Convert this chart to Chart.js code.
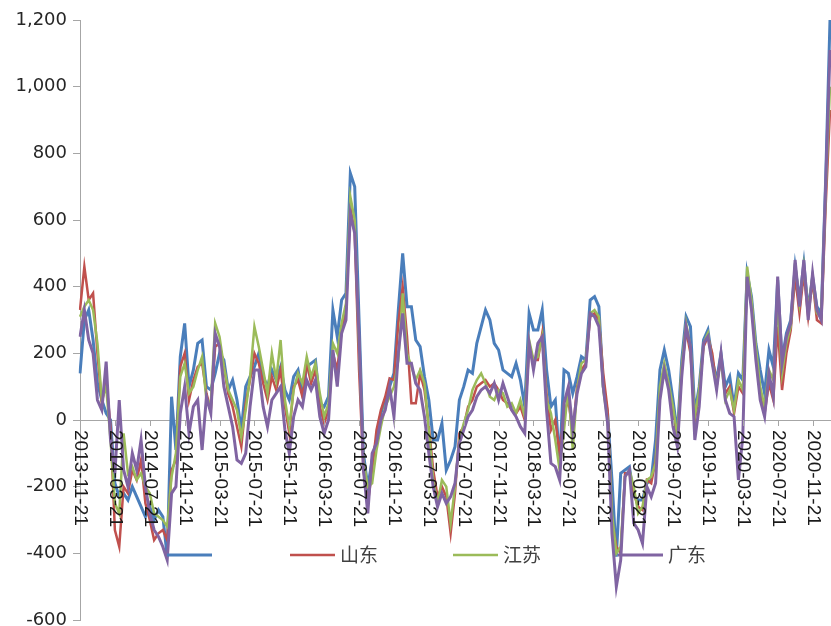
<!DOCTYPE html>
<html>
<head>
<meta charset="utf-8">
<script src="https://cdn.jsdelivr.net/npm/chart.js@4.4.1/dist/chart.umd.min.js"></script>
<style>
  html, body { margin: 0; padding: 0; background: #fff; }
  #chart { display: block; }
</style>
</head>
<body>
<canvas id="chart" width="831" height="626"></canvas>
<script>
// 日期（半月一点）
const dates = [
  '2013-11-21','2013-12-06','2013-12-21',
  '2014-01-06','2014-01-21','2014-02-06','2014-02-21','2014-03-06','2014-03-21','2014-04-06','2014-04-21','2014-05-06','2014-05-21','2014-06-06','2014-06-21',
  '2014-07-06','2014-07-21','2014-08-06','2014-08-21','2014-09-06','2014-09-21','2014-10-06','2014-10-21','2014-11-06','2014-11-21','2014-12-06','2014-12-21',
  '2015-01-06','2015-01-21','2015-02-06','2015-02-21','2015-03-06','2015-03-21','2015-04-06','2015-04-21','2015-05-06','2015-05-21','2015-06-06','2015-06-21',
  '2015-07-06','2015-07-21','2015-08-06','2015-08-21','2015-09-06','2015-09-21','2015-10-06','2015-10-21','2015-11-06','2015-11-21','2015-12-06','2015-12-21',
  '2016-01-06','2016-01-21','2016-02-06','2016-02-21','2016-03-06','2016-03-21','2016-04-06','2016-04-21','2016-05-06','2016-05-21','2016-06-06','2016-06-21',
  '2016-07-06','2016-07-21','2016-08-06','2016-08-21','2016-09-06','2016-09-21','2016-10-06','2016-10-21','2016-11-06','2016-11-21','2016-12-06','2016-12-21',
  '2017-01-06','2017-01-21','2017-02-06','2017-02-21','2017-03-06','2017-03-21','2017-04-06','2017-04-21','2017-05-06','2017-05-21','2017-06-06','2017-06-21',
  '2017-07-06','2017-07-21','2017-08-06','2017-08-21','2017-09-06','2017-09-21','2017-10-06','2017-10-21','2017-11-06','2017-11-21','2017-12-06','2017-12-21',
  '2018-01-06','2018-01-21','2018-02-06','2018-02-21','2018-03-06','2018-03-21','2018-04-06','2018-04-21','2018-05-06','2018-05-21','2018-06-06','2018-06-21',
  '2018-07-06','2018-07-21','2018-08-06','2018-08-21','2018-09-06','2018-09-21','2018-10-06','2018-10-21','2018-11-06','2018-11-21','2018-12-06','2018-12-21',
  '2019-01-06','2019-01-21','2019-02-06','2019-02-21','2019-03-06','2019-03-21','2019-04-06','2019-04-21','2019-05-06','2019-05-21','2019-06-06','2019-06-21',
  '2019-07-06','2019-07-21','2019-08-06','2019-08-21','2019-09-06','2019-09-21','2019-10-06','2019-10-21','2019-11-06','2019-11-21','2019-12-06','2019-12-21',
  '2020-01-06','2020-01-21','2020-02-06','2020-02-21','2020-03-06','2020-03-21','2020-04-06','2020-04-21','2020-05-06','2020-05-21','2020-06-06','2020-06-21',
  '2020-07-06','2020-07-21','2020-08-06','2020-08-21','2020-09-06','2020-09-21','2020-10-06','2020-10-21','2020-11-06','2020-11-21','2020-12-06','2020-12-21',
  '2021-01-06','2021-01-21'
];

// 横轴上显示的刻度标签
const tickLabels = [
  '2013-11-21','2014-03-21','2014-07-21','2014-11-21','2015-03-21','2015-07-21',
  '2015-11-21','2016-03-21','2016-07-21','2016-11-21','2017-03-21','2017-07-21',
  '2017-11-21','2018-03-21','2018-07-21','2018-11-21','2019-03-21','2019-07-21',
  '2019-11-21','2020-03-21','2020-07-21','2020-11-21'
];

const seriesNames = ['', '山东', '江苏', '广东'];

// 第一条（蓝色，图例无名称）
const seriesBlue = [
  140,300,330,240,110,60,20,0,
  -190,-230,-220,-240,-200,-230,-260,-290,
  -260,-300,-270,-290,-410,70,-90,190,
  290,100,150,230,240,100,90,140,
  200,180,90,120,60,-30,100,130,
  160,200,130,100,150,120,160,90,
  60,130,150,80,160,170,180,50,
  40,70,330,250,360,380,740,700,
  300,-100,-200,-120,-60,20,60,100,
  140,330,500,340,340,240,220,130,
  60,-60,-60,-10,-150,-120,-80,60,
  100,150,140,230,280,330,300,230,
  210,150,140,130,170,120,40,320,
  270,270,330,150,40,60,-130,150,
  140,80,130,190,180,360,370,340,
  100,20,-180,-410,-160,-150,-140,-230,
  -240,-240,-190,-180,-60,150,210,150,
  60,-40,180,310,280,20,100,240,
  270,180,120,200,100,130,40,140,
  120,440,370,230,150,80,210,160,
  420,180,260,300,460,360,470,330,
  430,340,320,720,1200
];

// 山东
const seriesShandong = [
  330,460,360,380,200,50,120,-20,
  -330,-380,-200,-220,-150,-180,-120,-250,
  -300,-360,-340,-330,-360,-150,-120,160,
  200,60,120,160,170,80,30,220,
  230,160,80,40,-20,-80,50,120,
  200,170,110,60,130,90,150,40,
  -40,100,120,70,170,110,150,40,
  -10,30,200,150,270,330,640,560,
  150,-150,-250,-150,-30,30,70,125,
  120,290,400,250,50,50,140,90,
  -20,-150,-230,-200,-230,-340,-220,-40,
  -20,40,60,100,110,120,100,110,
  90,60,50,30,20,40,0,220,
  180,180,260,80,-30,0,-100,20,
  60,-40,100,150,170,310,320,300,
  140,30,-300,-380,-400,-160,-160,-220,
  -260,-270,-180,-190,-120,80,160,100,
  30,-70,150,270,200,0,80,220,
  250,200,100,190,80,100,20,100,
  80,420,350,200,80,20,110,60,
  280,90,200,270,430,320,440,310,
  420,300,290,640,930
];

// 江苏
const seriesJiangsu = [
  310,340,360,330,230,60,100,-60,
  -250,-280,-40,-160,-140,-180,-160,-200,
  -220,-280,-290,-300,-320,-170,-100,130,
  170,80,100,150,190,60,50,290,
  250,160,90,60,30,-50,30,130,
  280,220,150,80,200,120,240,60,
  -20,90,140,110,190,130,170,80,
  10,50,230,200,290,350,670,600,
  220,-120,-200,-190,-90,-20,40,70,
  100,180,380,200,160,120,150,110,
  -30,-180,-250,-180,-200,-310,-200,-60,
  -10,30,90,120,140,110,70,60,
  90,80,40,50,20,60,10,240,
  180,190,250,60,20,-60,-150,-30,
  100,-90,90,170,180,320,330,310,
  90,0,-280,-400,-380,-170,-150,-200,
  -280,-260,-180,-170,-130,100,170,110,
  40,-50,160,290,220,10,90,230,
  260,170,110,180,60,90,30,120,
  90,460,360,220,100,40,150,120,
  350,140,230,280,470,350,460,330,
  430,320,310,680,1000
];

// 广东
const seriesGuangdong = [
  250,330,240,200,60,30,175,-60,
  -160,60,-150,-200,-100,-150,-60,-200,
  -280,-330,-350,-380,-420,-220,-200,20,
  100,-40,40,60,-90,70,20,260,
  220,100,40,-20,-120,-130,-100,40,
  150,150,40,-20,60,80,100,-30,
  -100,10,60,40,120,90,120,10,
  -40,0,210,100,260,300,620,560,
  250,-150,-280,-100,-70,0,30,100,
  10,200,320,170,170,110,90,10,
  -100,-200,-260,-220,-250,-230,-190,-70,
  -30,10,30,70,90,100,80,110,
  60,110,70,30,10,-20,-40,230,
  150,230,250,30,-130,-140,-180,50,
  100,-30,80,140,160,320,310,280,
  100,-10,-340,-500,-420,-170,-150,-310,
  -330,-370,-200,-230,-190,60,150,90,
  -20,-80,130,280,220,-60,40,230,
  250,170,90,200,60,20,10,-180,
  -50,430,330,180,60,10,140,70,
  430,170,250,290,480,340,480,300,
  440,330,300,700,1110
];

const COLORS = ['#4A7EBB', '#C0504D', '#9BBB59', '#8064A2'];
const AXIS_GRAY = '#A6A6A6';

// 横轴：刻度线 + 竖排日期（从轴往下读）
const dateAxisPlugin = {
  id: 'dateAxis',
  afterDraw(chart) {
    const ctx = chart.ctx;
    const xs = chart.scales.x, ys = chart.scales.y;
    const y0 = ys.getPixelForValue(0);
    ctx.save();
    ctx.strokeStyle = AXIS_GRAY;
    ctx.lineWidth = 1;
    ctx.fillStyle = '#1a1a1a';
    ctx.font = '19px "Liberation Sans", Arial, sans-serif';
    ctx.textAlign = 'left';
    ctx.textBaseline = 'middle';
    tickLabels.forEach(lbl => {
      const idx = dates.indexOf(lbl);
      if (idx < 0) return;
      const x = Math.round(xs.getPixelForValue(idx)) + 0.5;
      ctx.beginPath();
      ctx.moveTo(x, y0);
      ctx.lineTo(x, y0 + 6);
      ctx.stroke();
      ctx.save();
      ctx.translate(x, y0 + 10);
      ctx.rotate(Math.PI / 2);
      ctx.fillText(lbl, 0, 0);
      ctx.restore();
    });
    ctx.restore();
  }
};

// 图例（画在绘图区内部下方）
const innerLegendPlugin = {
  id: 'innerLegend',
  afterDraw(chart) {
    const ctx = chart.ctx;
    const starts = [167, 290, 453, 618];
    const ly = 555;
    ctx.save();
    ctx.font = '19px "Noto Sans CJK SC", sans-serif';
    ctx.textBaseline = 'middle';
    ctx.textAlign = 'left';
    chart.data.datasets.forEach((ds, i) => {
      const sx = starts[i];
      ctx.strokeStyle = ds.borderColor;
      ctx.lineWidth = ds.borderWidth;
      ctx.beginPath();
      ctx.moveTo(sx, ly);
      ctx.lineTo(sx + 45, ly);
      ctx.stroke();
      if (ds.label) {
        ctx.fillStyle = '#404040';
        ctx.fillText(ds.label, sx + 50, ly);
      }
    });
    ctx.restore();
  }
};

const seriesData = [seriesBlue, seriesShandong, seriesJiangsu, seriesGuangdong];
const widths = [3, 2.5, 2.5, 3];

new Chart(document.getElementById('chart').getContext('2d'), {
  type: 'line',
  data: {
    labels: dates,
    datasets: seriesData.map((d, i) => ({
      label: seriesNames[i],
      data: d,
      borderColor: COLORS[i],
      backgroundColor: COLORS[i],
      borderWidth: widths[i],
      pointRadius: 0,
      tension: 0,
      fill: false,
      order: 4 - i,
    })),
  },
  options: {
    responsive: false,
    animation: false,
    layout: { padding: { top: 20, bottom: 6, left: 0, right: 1 } },
    plugins: {
      legend: { display: false },
      tooltip: { enabled: false },
    },
    scales: {
      x: {
        type: 'category',
        position: { y: 0 },
        offset: false,
        grid: { display: false, drawOnChartArea: false, drawTicks: false },
        border: { display: true, color: AXIS_GRAY, width: 1 },
        ticks: { display: false },
      },
      y: {
        position: 'left',
        min: -600,
        max: 1200,
        ticks: {
          stepSize: 200,
          color: '#262626',
          font: { family: '"DejaVu Sans", sans-serif', size: 18 },
          padding: 6,
          callback: v => v.toLocaleString('en-US'),
        },
        grid: { drawOnChartArea: false, drawTicks: true, tickLength: 7, color: AXIS_GRAY },
        border: { display: true, color: AXIS_GRAY, width: 1 },
        afterFit: s => { s.width = 80; s.paddingTop = 0; s.paddingBottom = 0; },
      },
    },
  },
  plugins: [dateAxisPlugin, innerLegendPlugin],
});
</script>
</body>
</html>
